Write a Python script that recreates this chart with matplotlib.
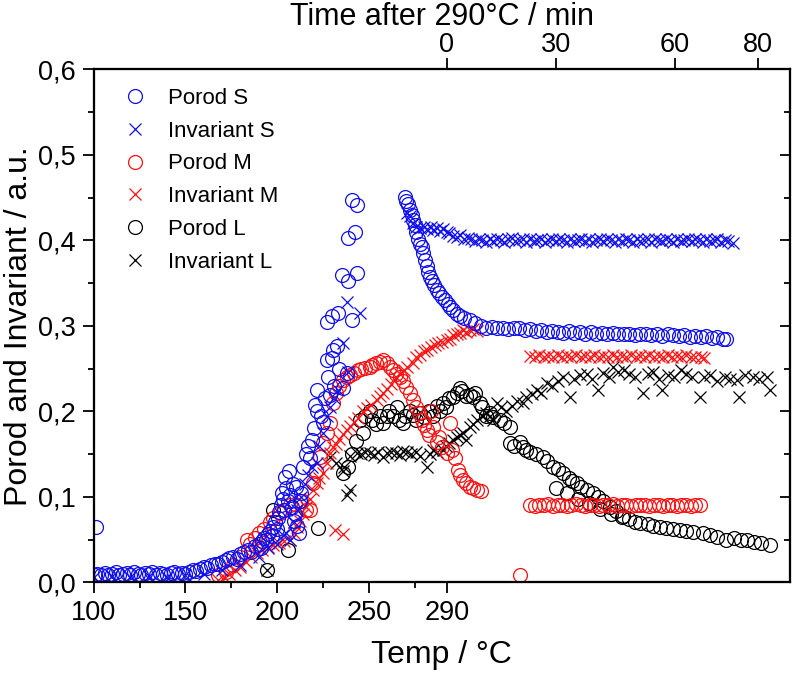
import matplotlib
matplotlib.use("Agg")
import matplotlib.pyplot as plt
from matplotlib.ticker import MultipleLocator, FixedLocator
from matplotlib.lines import Line2D

plt.rcParams['font.family'] = ['Liberation Sans', 'DejaVu Sans']

# x values are positions on the shared horizontal scale (temperature scale, continued as time after 290 °C)
porod_s_x = [101.5, 100.5, 102, 104, 106, 108, 110, 112, 114, 116, 118, 120, 122, 124, 126, 128, 130, 132, 134,
             136, 138, 140, 142, 144, 146, 148, 150, 152, 154, 156, 158, 160, 162, 164, 166, 168, 170, 172, 174,
             176, 178, 180, 182, 184, 186, 188, 190, 191, 192, 193, 194, 195, 196, 197, 198, 199, 200, 200.5,
             201, 202, 202.5, 203, 204, 204.5, 205, 206, 206.5, 207, 208, 208.5, 209, 210, 210.5, 211, 212,
             212.5, 213, 214, 216, 217, 218, 219, 220, 220.7, 222, 222, 224, 225, 226, 227, 227, 228, 228.8,
             229.8, 229.8, 230.5, 231, 232.5, 233.3, 234, 235.2, 236, 238, 238.8, 238.8, 240.7, 240.7, 242.5,
             243.4, 243.4,
             269.7, 270.5, 271.5, 272.5, 273.5, 274, 275, 276, 277, 278, 278.8, 279.5, 280.6, 281.5, 282.5,
             283.4, 284.5, 285.5, 287, 288.5, 290, 291.5, 293, 294.5, 296, 298, 300, 302, 305, 308, 311, 314,
             317, 320, 323, 326, 329, 332, 335, 338, 341, 344, 347, 350, 353, 356, 359, 362, 365, 368, 371,
             374, 377, 380, 383, 386, 389, 392, 395, 398, 401, 404, 407, 410, 413, 416, 419, 422, 425, 428,
             431, 434, 437, 440, 443, 445]
porod_s_y = [0.065, 0.009, 0.010, 0.008, 0.011, 0.009, 0.010, 0.012, 0.009, 0.010, 0.011, 0.009, 0.012, 0.010,
             0.009, 0.011, 0.010, 0.012, 0.009, 0.011, 0.010, 0.009, 0.011, 0.012, 0.010, 0.011, 0.010, 0.012,
             0.014, 0.013, 0.016, 0.018, 0.017, 0.020, 0.022, 0.021, 0.024, 0.026, 0.028, 0.030, 0.027, 0.033,
             0.035, 0.038, 0.036, 0.042, 0.045, 0.040, 0.048, 0.052, 0.050, 0.056, 0.060, 0.054, 0.065, 0.070,
             0.062, 0.075, 0.082, 0.090, 0.105, 0.098, 0.085, 0.123, 0.110, 0.095, 0.130, 0.102, 0.088, 0.115,
             0.072, 0.080, 0.112, 0.066, 0.058, 0.095, 0.105, 0.135, 0.150, 0.160, 0.145, 0.166, 0.180, 0.207,
             0.200, 0.225, 0.195, 0.188, 0.215, 0.260, 0.305, 0.240, 0.219, 0.262, 0.311, 0.272, 0.230, 0.276,
             0.315, 0.250, 0.359, 0.227, 0.245, 0.352, 0.403, 0.307, 0.447, 0.410, 0.362, 0.441,
             0.451, 0.446, 0.442, 0.436, 0.430, 0.424, 0.418, 0.410, 0.402, 0.396, 0.392, 0.385, 0.377, 0.370,
             0.363, 0.357, 0.352, 0.348, 0.342, 0.338, 0.334, 0.330, 0.326, 0.322, 0.318, 0.314, 0.311, 0.309,
             0.307, 0.303, 0.300, 0.298, 0.299, 0.297, 0.298, 0.296, 0.297, 0.297, 0.295, 0.296, 0.294, 0.295,
             0.293, 0.294, 0.293, 0.292, 0.294, 0.292, 0.293, 0.291, 0.293, 0.291, 0.292, 0.290, 0.292, 0.291,
             0.290, 0.291, 0.289, 0.291, 0.290, 0.289, 0.290, 0.288, 0.290, 0.289, 0.288, 0.289, 0.287, 0.288,
             0.287, 0.288, 0.286, 0.287, 0.285, 0.284]

inv_s_x = [100, 110, 120, 130, 140, 150, 160, 170, 180, 190, 195, 200, 203, 205, 207, 209, 211, 213, 215, 217,
           219, 221.6, 223, 225, 227, 229, 231, 233, 236, 238.7, 238, 245.2,
           271, 272.5, 274, 276, 278, 280, 282, 284, 285, 287, 289, 290.5, 292.5, 294, 296, 298, 300, 302, 304,
           306, 308, 310, 312, 314, 316, 318, 320, 322, 324, 326, 328, 330, 332, 334, 336, 338, 340, 342, 344,
           346, 348, 350, 352, 354, 356, 358, 360, 362, 364, 366, 368, 370, 372, 374, 376, 378, 380, 382, 384,
           386, 388, 390, 392, 394, 396, 398, 400, 402, 404, 406, 408, 410, 412, 414, 416, 418, 420, 422, 424,
           426, 428, 430, 432, 434, 436, 438, 440, 442, 444, 446, 448.6]
inv_s_y = [0.006, 0.007, 0.006, 0.007, 0.006, 0.008, 0.010, 0.014, 0.020, 0.030, 0.040, 0.045, 0.055, 0.058,
           0.050, 0.070, 0.085, 0.100, 0.115, 0.125, 0.135, 0.140, 0.160, 0.175, 0.195, 0.205, 0.215, 0.225,
           0.280, 0.246, 0.328, 0.315,
           0.432, 0.428, 0.420, 0.416, 0.414, 0.415, 0.413, 0.416, 0.412, 0.414, 0.411, 0.413, 0.410, 0.408,
           0.405, 0.404, 0.406, 0.402, 0.403, 0.401, 0.399, 0.402, 0.400, 0.398, 0.401, 0.399, 0.402, 0.400,
           0.398, 0.401, 0.403, 0.399, 0.400, 0.402, 0.398, 0.401, 0.399, 0.400, 0.402, 0.398, 0.400, 0.401,
           0.399, 0.402, 0.400, 0.398, 0.401, 0.399, 0.400, 0.402, 0.399, 0.401, 0.398, 0.400, 0.402, 0.399,
           0.401, 0.400, 0.398, 0.401, 0.399, 0.402, 0.400, 0.398, 0.401, 0.399, 0.400, 0.402, 0.398, 0.401,
           0.400, 0.399, 0.402, 0.400, 0.398, 0.401, 0.399, 0.400, 0.402, 0.399, 0.401, 0.400, 0.398, 0.401,
           0.399, 0.400, 0.401, 0.398, 0.400, 0.399, 0.397]

porod_m_x = [168, 172, 176, 180, 183.4, 185, 188, 190, 193, 196, 198, 201.6, 204, 207, 210, 213, 216, 218,
             219.6, 221, 223.4, 225, 227, 228.8, 230.5, 232, 234, 236, 238, 240, 242, 244, 246, 248, 250.7,
             252, 254, 256, 258, 260, 261.6, 263, 265, 267, 268.7, 270.5, 272.5, 274, 276, 277.5, 278.8, 280,
             281.6, 283, 284, 285, 287, 288.5, 290, 292.5, 294.3, 295.5, 297, 298.5, 300, 301.5, 303, 305,
             307, 309, 311,
             332.4,
             338, 340.5, 343, 345.5, 348, 350.5, 353, 355.5, 358, 360.5, 363, 365.5, 368, 370.5, 373, 375.5,
             378, 380.5, 383, 385.5, 388, 390.5, 393, 395.5, 398, 400.5, 403, 405.5, 408, 410.5, 413, 415.5,
             418, 420.5, 423, 425.5, 428, 430.6]
porod_m_y = [0.008, 0.012, 0.020, 0.030, 0.050, 0.045, 0.052, 0.058, 0.062, 0.070, 0.075, 0.081, 0.085, 0.090,
             0.092, 0.095, 0.085, 0.085, 0.116, 0.130, 0.147, 0.163, 0.175, 0.186, 0.210, 0.222, 0.230, 0.237,
             0.240, 0.243, 0.245, 0.248, 0.250, 0.251, 0.252, 0.254, 0.256, 0.258, 0.260, 0.256, 0.252, 0.248,
             0.244, 0.240, 0.235, 0.228, 0.221, 0.213, 0.205, 0.198, 0.190, 0.184, 0.178, 0.172, 0.200, 0.182,
             0.164, 0.170, 0.158, 0.151, 0.186, 0.155, 0.145, 0.131, 0.126, 0.120, 0.116, 0.112, 0.110, 0.108,
             0.107,
             0.0085,
             0.090, 0.089, 0.091, 0.090, 0.092, 0.089, 0.090, 0.091, 0.089, 0.090, 0.092, 0.090, 0.089, 0.091,
             0.090, 0.089, 0.091, 0.090, 0.092, 0.089, 0.090, 0.091, 0.089, 0.090, 0.091, 0.090, 0.089, 0.091,
             0.090, 0.089, 0.091, 0.090, 0.089, 0.091, 0.090, 0.089, 0.091, 0.090]

inv_m_x = [168, 171, 174, 177, 180, 183, 186, 189, 192, 195, 198, 201, 204, 207, 209, 210.7, 212.5, 214, 216,
           218, 219.6, 221.5, 223, 225, 227, 228.8, 230.5, 232, 234, 236, 238, 240, 242, 244, 246.8, 249, 251,
           254.3, 256, 258, 260, 262, 265, 267, 269, 271, 274, 276, 278, 280, 282, 284, 286, 288, 290, 292.5,
           294.3, 296, 298, 300, 301.5, 303, 305, 307, 309,
           231.6, 236,
           338, 340.5, 343, 345.5, 348, 350.5, 353, 355.5, 358, 360.5, 363, 365.5, 368, 370.5, 373, 375.5, 378,
           380.5, 383, 385.5, 388, 390.5, 393, 395.5, 398, 400.5, 403, 405.5, 408, 410.5, 413, 415.5, 418,
           420.5, 423, 425.5, 428, 431, 433]
inv_m_y = [0.003, 0.006, 0.010, 0.014, 0.018, 0.024, 0.030, 0.034, 0.038, 0.041, 0.044, 0.046, 0.048, 0.050,
           0.058, 0.065, 0.072, 0.080, 0.088, 0.098, 0.108, 0.116, 0.122, 0.128, 0.140, 0.151, 0.158, 0.162,
           0.168, 0.173, 0.178, 0.183, 0.188, 0.192, 0.200, 0.204, 0.207, 0.213, 0.218, 0.222, 0.226, 0.232,
           0.240, 0.244, 0.248, 0.252, 0.256, 0.264, 0.266, 0.270, 0.272, 0.275, 0.277, 0.280, 0.281, 0.283,
           0.285, 0.289, 0.291, 0.292, 0.295, 0.293, 0.295, 0.296, 0.294,
           0.061, 0.057,
           0.265, 0.263, 0.266, 0.264, 0.265, 0.263, 0.266, 0.264, 0.265, 0.263, 0.266, 0.264, 0.265, 0.263,
           0.266, 0.264, 0.265, 0.263, 0.266, 0.264, 0.265, 0.263, 0.266, 0.264, 0.265, 0.263, 0.266, 0.264,
           0.265, 0.263, 0.266, 0.264, 0.265, 0.263, 0.266, 0.264, 0.264, 0.263, 0.262]

porod_l_x = [194.3, 197.8, 206, 222.5, 236, 238.5, 241, 243, 245, 246.8, 248, 250.7, 252, 254, 256, 257.5,
             259.8, 261, 263, 265.2, 266.5, 268.6, 270, 272.5, 274, 276, 278, 280, 283, 285, 287, 289, 290.5,
             292, 294, 296, 298, 299.7, 301, 303, 305, 306.8, 308, 310.6, 312, 314, 316, 318, 321.5, 324, 327,
             327, 329, 332.4, 334, 336, 338, 341, 345, 347, 350.5, 353, 356, 359, 361, 363.4, 366, 369, 372.3,
             375, 378, 381.5, 385, 388.7, 392, 395, 398, 402, 405, 408.8, 412, 416, 419.7, 423, 427, 432, 436,
             440, 445, 449, 453, 456, 460, 464, 468.7,
             352, 358, 364, 370, 376, 382, 388]
porod_l_y = [0.014, 0.085, 0.038, 0.063, 0.128, 0.135, 0.150, 0.165, 0.190, 0.175, 0.195, 0.200, 0.190, 0.185,
             0.195, 0.186, 0.194, 0.200, 0.195, 0.205, 0.190, 0.186, 0.195, 0.200, 0.196, 0.190, 0.198, 0.193,
             0.200, 0.195, 0.206, 0.200, 0.210, 0.205, 0.215, 0.217, 0.222, 0.227, 0.224, 0.218, 0.219, 0.217,
             0.222, 0.210, 0.205, 0.194, 0.198, 0.193, 0.190, 0.186, 0.182,
             0.163, 0.160, 0.164, 0.158, 0.155, 0.152, 0.150, 0.147, 0.142, 0.135, 0.132, 0.128, 0.122, 0.119,
             0.116, 0.112, 0.108, 0.104, 0.100, 0.095, 0.088, 0.083, 0.077, 0.074, 0.071, 0.069, 0.068, 0.066,
             0.065, 0.064, 0.062, 0.061, 0.060, 0.059, 0.058, 0.055, 0.053, 0.050, 0.052, 0.049, 0.050, 0.047,
             0.046, 0.044,
             0.110, 0.104, 0.098, 0.093, 0.086, 0.080, 0.076]

inv_l_x = [194.3, 236, 238, 240, 228.8, 232, 236.5, 240, 243.4, 246, 248, 250.7, 253, 255, 257.7, 260, 262, 265,
           267, 268.5, 270.7, 273, 276, 278, 281.6, 283.4, 285, 287, 290.5, 292, 294, 296, 298, 299.5, 301.4,
           303, 305, 307, 309, 312, 314, 316, 318, 319.7, 322, 325, 328, 331, 334, 336, 339, 342, 344, 347,
           350, 353, 356, 359.7, 362, 365, 368.8, 372, 375, 378, 381, 383.2, 386, 389, 392, 395, 399.6, 402,
           405, 408, 410, 413, 416.7, 420, 423, 426, 430.6, 433, 436, 440, 444, 447, 450.6, 452, 455, 459.5,
           463, 467, 468.7]
inv_l_y = [0.014, 0.130, 0.102, 0.108, 0.147, 0.140, 0.135, 0.148, 0.151, 0.150, 0.153, 0.151, 0.149, 0.152,
           0.147, 0.151, 0.153, 0.151, 0.149, 0.154, 0.153, 0.150, 0.152, 0.148, 0.135, 0.150, 0.155, 0.153,
           0.155, 0.160, 0.163, 0.166, 0.170, 0.172, 0.175, 0.166, 0.182, 0.185, 0.190, 0.194, 0.198, 0.195,
           0.190, 0.210, 0.205, 0.200, 0.206, 0.212, 0.210, 0.217, 0.220, 0.225, 0.222, 0.233, 0.230, 0.236,
           0.240, 0.217, 0.238, 0.242, 0.244, 0.238, 0.225, 0.245, 0.240, 0.252, 0.246, 0.248, 0.244, 0.240,
           0.221, 0.244, 0.246, 0.238, 0.225, 0.242, 0.240, 0.248, 0.244, 0.240, 0.217, 0.240, 0.242, 0.236,
           0.240, 0.238, 0.237, 0.217, 0.242, 0.240, 0.238, 0.240, 0.225]

temp_ticks = [100, 150, 200, 250]
temp_290_pos = 292.6
temp_labels = ['100', '150', '200', '250', '290']
time_labels = ['0', '30', '60', '80']
time_tick_pos = [292.6, 352, 417, 462]

BLUE = '#1010ee'
RED = '#ff1010'
BLACK = '#000000'

fig = plt.figure(figsize=(7.93, 6.74), dpi=100)
ax = fig.add_axes([0.1182, 0.136, 0.8780, 0.7612])

circ = dict(marker='o', linestyle='none', markersize=10, markerfacecolor='none', markeredgewidth=0.9)
cross = dict(marker='x', linestyle='none', markersize=8.5, markeredgewidth=0.9)

ax.plot(porod_l_x, porod_l_y, color=BLACK, markeredgecolor=BLACK, **circ)
ax.plot(inv_l_x, inv_l_y, color=BLACK, **cross)
ax.plot(porod_m_x, porod_m_y, color=RED, markeredgecolor=RED, **circ)
ax.plot(inv_m_x, inv_m_y, color=RED, **cross)
ax.plot(porod_s_x, porod_s_y, color=BLUE, markeredgecolor=BLUE, **circ)
ax.plot(inv_s_x, inv_s_y, color=BLUE, **cross)

ax.set_xlim(100, 479.7)
ax.set_ylim(0, 0.6)

ax.xaxis.set_major_locator(FixedLocator(temp_ticks + [temp_290_pos]))
ax.set_xticklabels(temp_labels)
ax.xaxis.set_minor_locator(FixedLocator([125, 175, 225, 275]))
ax.yaxis.set_major_locator(MultipleLocator(0.1))
ax.yaxis.set_minor_locator(MultipleLocator(0.05))
ax.yaxis.set_major_formatter(matplotlib.ticker.FuncFormatter(lambda v, p: f"{v:.1f}".replace('.', ',')))

ax.tick_params(axis='x', which='major', direction='out', length=8, width=1.3, labelsize=19.5, pad=4.5,
               top=False)
ax.tick_params(axis='x', which='minor', direction='out', length=4, width=1.3, top=False)
ax.tick_params(axis='y', which='major', direction='out', length=8, width=1.3, labelsize=19.5, pad=5)
ax.tick_params(axis='y', which='minor', direction='out', length=4, width=1.3)

# right side inward ticks
axr = ax.twinx()
axr.set_ylim(ax.get_ylim())
axr.yaxis.set_major_locator(MultipleLocator(0.1))
axr.yaxis.set_minor_locator(MultipleLocator(0.05))
axr.tick_params(axis='y', which='both', direction='in', labelright=False, width=1.3)
axr.tick_params(axis='y', which='major', length=7)
axr.tick_params(axis='y', which='minor', length=4)

# top axis: time after 290 °C
axt = ax.twiny()
axt.set_xlim(ax.get_xlim())
axt.xaxis.set_major_locator(FixedLocator(time_tick_pos))
axt.set_xticklabels(time_labels)
axt.tick_params(axis='x', which='major', direction='out', length=8, width=1.3, labelsize=19.5, pad=0)
axt.set_xlabel('Time after 290°C / min', fontsize=22, labelpad=5)

for a in (ax, axr, axt):
    for s in a.spines.values():
        s.set_linewidth(1.5)

ax.set_xlabel('Temp / °C', fontsize=23, labelpad=10)
ax.set_ylabel('Porod and Invariant / a.u.', fontsize=23, labelpad=3)

handles = [
    Line2D([], [], color=BLUE, markeredgecolor=BLUE, **circ),
    Line2D([], [], color=BLUE, **cross),
    Line2D([], [], color=RED, markeredgecolor=RED, **circ),
    Line2D([], [], color=RED, **cross),
    Line2D([], [], color=BLACK, markeredgecolor=BLACK, **circ),
    Line2D([], [], color=BLACK, **cross),
]
labels = ['Porod S', 'Invariant S', 'Porod M', 'Invariant M', 'Porod L', 'Invariant L']
axt.legend(handles, labels, loc='upper left', bbox_to_anchor=(0.0435, 0.964), frameon=False,
           fontsize=16, handlelength=1.0, handletextpad=1.0, labelspacing=0.53, borderpad=0,
           borderaxespad=0, numpoints=1)

fig.savefig('out.png', dpi=100)
